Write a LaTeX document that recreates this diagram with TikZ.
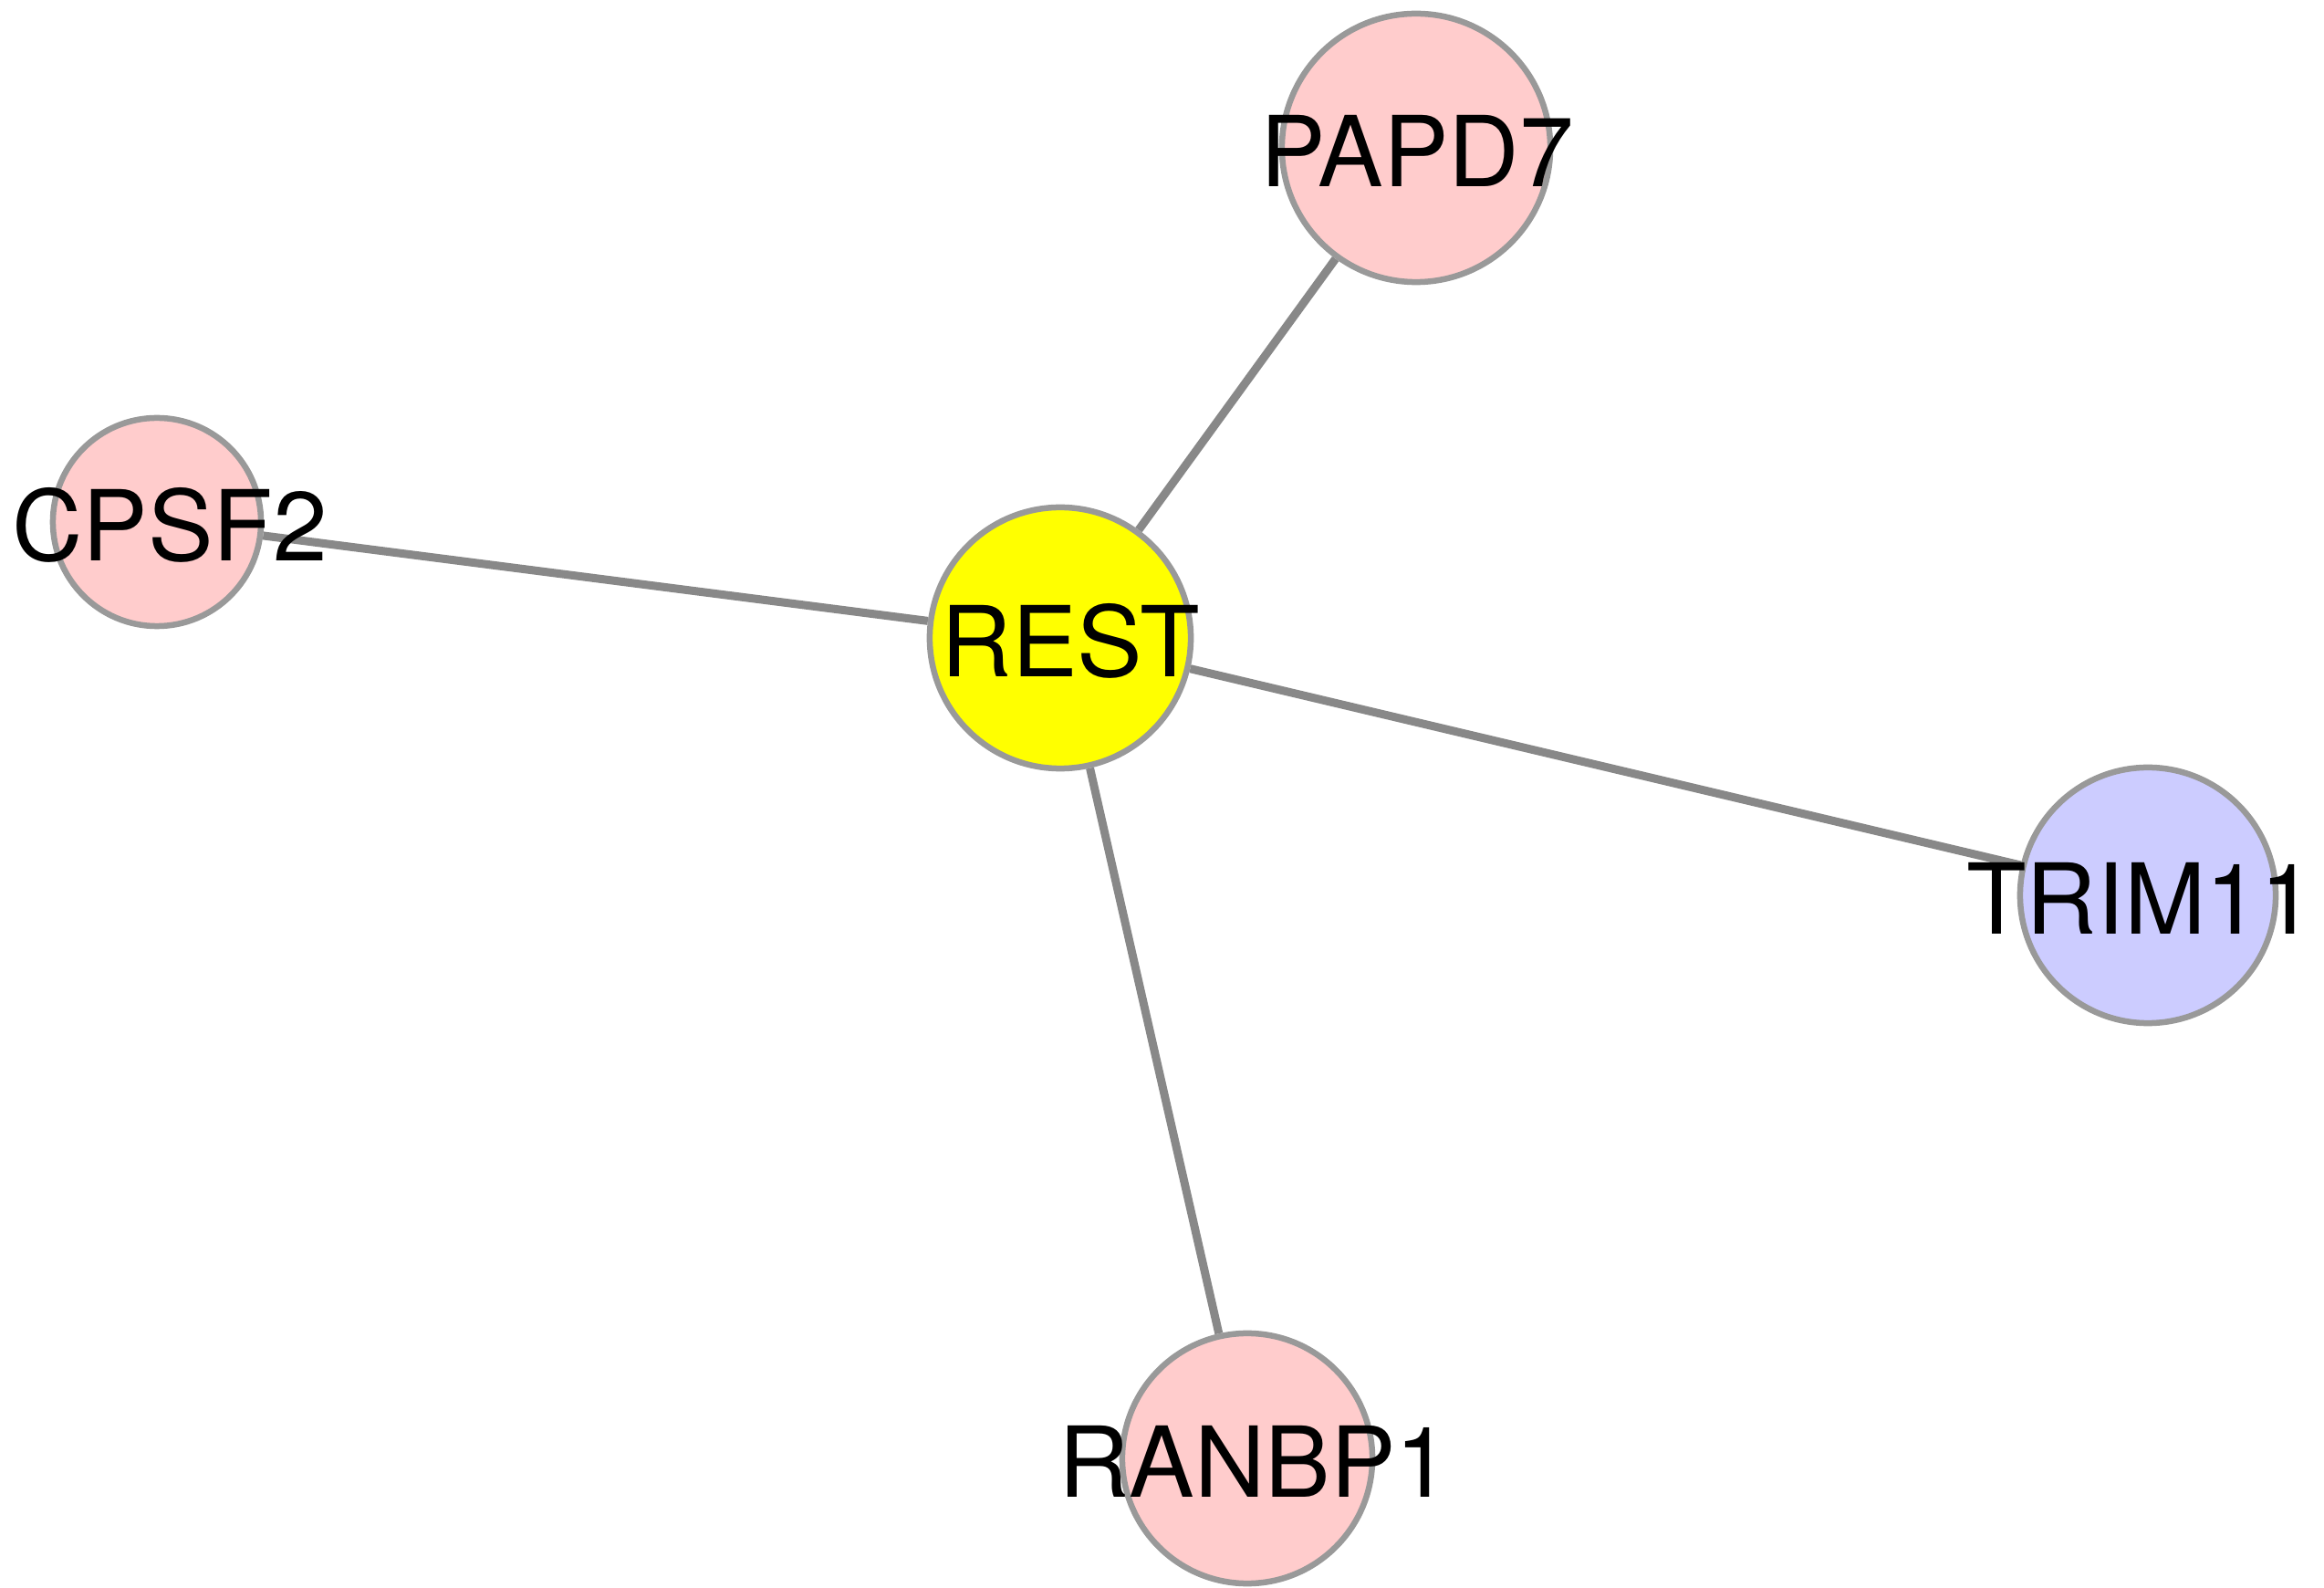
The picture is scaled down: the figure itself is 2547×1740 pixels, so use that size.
\documentclass[tikz,border=0pt]{standalone}
\usepackage{fontspec}
\setmainfont{TeX Gyre Heros}
\usetikzlibrary{backgrounds}
\definecolor{pinkfill}{HTML}{FFCCCC}
\definecolor{yellowfill}{HTML}{FFFF00}
\definecolor{bluefill}{HTML}{CCCCFF}
\definecolor{nodeborder}{HTML}{999999}
\definecolor{edgegray}{HTML}{888888}
\tikzset{
  gene/.style={circle, draw=nodeborder, line width=0.065cm, inner sep=0pt, minimum size=#1},
  genelabel/.style={font=\fontsize{30.5}{30.5}\selectfont, inner sep=0pt, text=black},
  link/.style={draw=edgegray, line width=0.09cm}
}
\begin{document}
\begin{tikzpicture}[x=0.01cm, y=-0.01cm]
\useasboundingbox (0,0) rectangle (2547,1740);
\node[gene=2.86cm, fill=yellowfill] (rest) at (1162,699) {};
\node[gene=2.94cm, fill=pinkfill] (papd7) at (1552,162) {};
\node[gene=2.28cm, fill=pinkfill] (cpsf2) at (172,572) {};
\node[gene=2.80cm, fill=bluefill] (trim11) at (2354,981) {};
\node[gene=2.74cm, fill=pinkfill] (ranbp1) at (1367,1598) {};
\begin{scope}[on background layer]
\draw[link] (rest) -- (papd7);
\draw[link] (rest) -- (cpsf2);
\draw[link] (rest) -- (trim11);
\draw[link] (rest) -- (ranbp1);
\end{scope}
\node[genelabel] (lrest) at ([xshift=0.11cm,yshift=-0.03cm]rest.center) {REST};
\node[genelabel] (lpapd7) at ([xshift=0.01cm,yshift=-0.03cm]papd7.center) {PAPD7};
\node[genelabel] (lcpsf2) at ([xshift=0.14cm,yshift=-0.03cm]cpsf2.center) {CPSF2};
\node[genelabel] (ltrim11) at ([xshift=-0.08cm,yshift=-0.03cm]trim11.center) {TRIM11};
\node[genelabel] (lranbp1) at ([xshift=0.08cm,yshift=-0.03cm]ranbp1.center) {RANBP1};
\end{tikzpicture}
\end{document}
